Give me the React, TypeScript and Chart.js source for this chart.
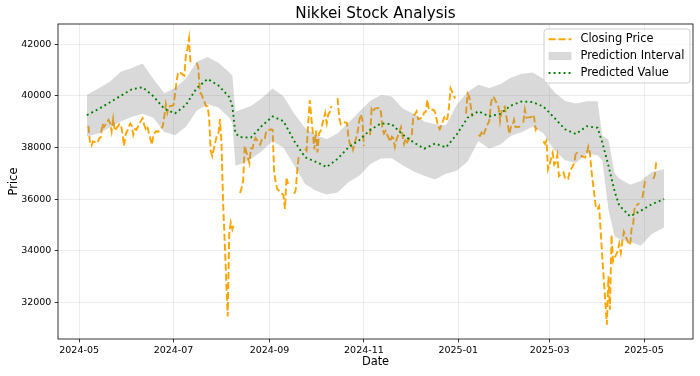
import React, { useEffect, useRef } from 'react';
import { Chart, registerables } from 'chart.js';

Chart.register(...registerables);
Chart.defaults.font.family = '"DejaVu Sans", sans-serif';

// ---------------- data ----------------
const closeMonths = ['2024-05', '2024-06', '2024-07', '2024-08', '2024-09', '2024-10', '2024-11', '2024-12', '2025-01', '2025-02', '2025-03', '2025-04', '2025-05'];
const closeDays = [
  [7, 8, 9, 10, 13, 14, 15, 16, 17, 20, 21, 22, 23, 24, 27, 28, 29, 30, 31],
  [3, 4, 5, 6, 7, 10, 11, 12, 13, 14, 17, 18, 19, 20, 21, 24, 25, 26, 27, 28],
  [1, 2, 3, 4, 5, 8, 9, 10, 11, 12, 15, 16, 17, 18, 19, 22, 23, 24, 25, 26, 29, 30, 31],
  [1, 2, 5, 6, 7, 8, 9, 12, 13, 14, 15, 16, 19, 20, 21, 22, 23, 26, 27, 28, 29, 30],
  [2, 3, 4, 5, 6, 9, 10, 11, 12, 13, 16, 17, 18, 19, 20, 23, 24, 25, 26, 27, 30],
  [1, 2, 3, 4, 7, 8, 9, 10, 11, 14, 15, 16, 17, 18, 21, 22, 23, 24, 25, 28, 29, 30, 31],
  [1, 4, 5, 6, 7, 8, 11, 12, 13, 14, 15, 18, 19, 20, 21, 22, 25, 26, 27, 28, 29],
  [2, 3, 4, 5, 6, 9, 10, 11, 12, 13, 16, 17, 18, 19, 20, 23, 24, 25, 26, 27, 30, 31],
  [1, 2, 3, 6, 7, 8, 9, 10, 13, 14, 15, 16, 17, 20, 21, 22, 23, 24, 27, 28, 29, 30, 31],
  [3, 4, 5, 6, 7, 10, 11, 12, 13, 14, 17, 18, 19, 20, 21, 24, 25, 26, 27, 28],
  [3, 4, 5, 6, 7, 10, 11, 12, 13, 14, 17, 18, 19, 20, 21, 24, 25, 26, 27, 28, 31],
  [1, 2, 3, 4, 7, 8, 9, 10, 11, 14, 15, 16, 17, 18, 21, 22, 23, 24, 25, 28, 29, 30],
  [1, 2, 5, 6, 7, 8, 9],
];
const closeValues: (number | null)[][] = [
  [38835, 38202, 38073, 38229, 38179, 38356, 38385, 38920, 38787, 39069, 38946, 38617, 39103, 38646, 38900, 38855, 38556, 38054, 38487],
  [38923, 38837, 38490, 38703, 38683, 39038, 39134, 38876, 38720, 38814, 38102, 38482, 38570, 38633, 38596, 38804, 39173, 39667, 39341, 39583],
  [39631, 40074, 40580, 40913, 40912, 40780, 41580, 41831, 42224, 41190, null, 41275, 41097, 40126, 40063, 39599, 39594, 39154, 37869, 37667, 38468, 38525, 39101],
  [38126, 35909, 31458, 34675, 35089, 34831, 35025, null, 36232, 36442, 36726, 38062, 37388, 37963, 37951, 38211, 38364, 38110, 38288, 38371, 38362, 38647],
  [38700, 38686, 37047, 36657, 36391, 36215, 36159, 35619, 36833, 36581, null, 36203, 36380, 37155, 37723, null, 37940, 37870, 38925, 39829, 37919],
  [38651, 37808, 38552, 38635, 39332, 38937, 39277, 39380, 39605, null, 39910, 39180, 38911, 38981, 38954, 38411, 38104, 38143, 37913, 38605, 39027, 39277, 39081],
  [38053, null, 38474, 39480, 39381, 39500, 39533, 39376, 38721, 38535, 38642, 38220, 38414, 38352, 38026, 38283, 38780, 38442, 38134, 38349, 38208],
  [38513, 39248, 39276, 39395, 39091, 39160, 39367, 39372, 39849, 39470, 39457, 39364, 39081, 38813, 38701, 39161, 39037, 39130, 39568, 40281, 39894, null],
  [null, null, null, 39307, 40083, 39981, 39605, 39190, null, 38474, 38444, 38572, 38451, 38902, 39027, 39646, 39958, 39931, 39565, 39016, 39414, 39513, 39572],
  [38520, 38798, 38831, 39066, 38787, 38801, null, 38963, 39461, 39149, 39174, 39270, 39164, 38678, 38776, null, 38237, 38142, 38256, 37155],
  [37785, 37331, 37418, 37704, 36887, 37028, 36793, 36819, 36790, 37053, 37396, 37845, 37751, null, 37677, 37608, 37780, 38027, 37799, 37120, 35617],
  [35624, 35725, 34735, 33780, 31136, 33012, 31714, 34609, 33586, 33982, 34267, 33920, 34377, 34730, 34280, 34221, 34869, 35039, 35705, 35840, null, 36045],
  [36452, 36831, null, null, 36780, 36929, 37503],
];

const predDates = [
  '2024-05-06', '2024-05-14', '2024-05-21', '2024-05-28',
  '2024-06-04', '2024-06-11', '2024-06-18', '2024-06-25',
  '2024-07-02', '2024-07-09', '2024-07-16', '2024-07-23', '2024-07-30',
  '2024-08-06', '2024-08-08', '2024-08-10', '2024-08-13', '2024-08-20', '2024-08-27',
  '2024-09-03', '2024-09-10', '2024-09-17', '2024-09-24',
  '2024-10-01', '2024-10-08', '2024-10-15', '2024-10-22', '2024-10-29',
  '2024-11-05', '2024-11-12', '2024-11-19', '2024-11-26',
  '2024-12-03', '2024-12-10', '2024-12-17', '2024-12-24', '2024-12-31',
  '2025-01-07', '2025-01-14', '2025-01-21', '2025-01-28',
  '2025-02-04', '2025-02-11', '2025-02-18', '2025-02-25',
  '2025-03-04', '2025-03-11', '2025-03-18', '2025-03-25',
  '2025-04-01', '2025-04-04', '2025-04-08', '2025-04-12', '2025-04-15', '2025-04-22', '2025-04-29',
  '2025-05-06', '2025-05-14',
];
const predValues = [
  39250, 39500, 39750, 40000,
  40250, 40330, 39980, 39500,
  39320, 39640, 40300, 40650, 40400,
  39950, 39600, 38550, 38400, 38380, 38830,
  39200, 39020, 38250, 37620,
  37440, 37240, 37560, 38000, 38280,
  38670, 38930, 38900, 38500,
  38200, 37950, 38150, 38000, 38500,
  39150, 39400, 39200, 39300,
  39620, 39780, 39760, 39580,
  39150, 38700, 38520, 38820,
  38760, 38200, 37300, 36300, 35750, 35330, 35550,
  35800, 36000,
];
const upperValues = [
  40030, 40300, 40550, 40930,
  41070, 41250, 40650, 40100,
  40300, 40670, 41320, 41500, 41280,
  40900, 40780, 39380, 39450, 39600, 39900,
  40280, 39980, 39300, 38750,
  38480, 38320, 38550, 38950, 39380,
  39800, 40030, 39970, 39510,
  39300, 39000, 38900, 38860, 39650,
  40150, 40430, 40300, 40450,
  40700, 40850, 40900, 40650,
  40150, 39800, 39700, 39790,
  39790, 38450, 38300, 37000, 36800, 36550, 36700,
  37050, 37150,
];
const lowerValues = [
  38420, 38550, 38780, 39000,
  39180, 39300, 39150, 38600,
  38470, 38800, 39420, 39680, 39550,
  39150, 38950, 37300, 37350, 37550, 37850,
  38250, 38000, 37300, 36580,
  36320, 36180, 36250, 36650, 36900,
  37350, 37570, 37580, 37310,
  37080, 36900, 36760, 36980, 37100,
  37450, 38250, 37960, 38100,
  38450, 38600, 38800, 38550,
  37900, 37500, 37400, 37750,
  37700, 37500, 35600, 34560, 34450, 34340, 34200,
  34650, 34900,
];

const xTickLabels = ['2024-05', '2024-07', '2024-09', '2024-11', '2025-01', '2025-03', '2025-05'];
const yTickValues = [32000, 34000, 36000, 38000, 40000, 42000];
const legendLabels = ['Closing Price', 'Prediction Interval', 'Predicted Value'];
const titleText = 'Nikkei Stock Analysis';

// ---------------- helpers ----------------
const ORIGIN = Date.parse('2024-05-01');
const toDay = (s: string) => (Date.parse(s) - ORIGIN) / 86400000;

const ORANGE = '#FFA500';
const GREEN = '#008000';
const BAND = 'rgba(128,128,128,0.3)';
const ORANGE_DASH = [7, 3];
const GREEN_DASH = [1.9, 3.1];
const FONT = '"DejaVu Sans", sans-serif';

const decorPlugin = {
  id: 'decor',
  afterDraw(chart: any) {
    const { ctx, chartArea: a } = chart;
    ctx.save();
    // spines
    ctx.strokeStyle = '#000';
    ctx.lineWidth = 0.8;
    ctx.setLineDash([]);
    ctx.strokeRect(a.left, a.top, a.right - a.left, a.bottom - a.top);
    // title
    ctx.fillStyle = '#000';
    ctx.font = `15.2px ${FONT}`;
    ctx.textAlign = 'center';
    ctx.textBaseline = 'alphabetic';
    ctx.fillText(titleText, (a.left + a.right) / 2, a.top - 5.7);
    // legend
    const bw = 146, bh = 54;
    const bx = a.right - 3 - bw, by = a.top + 5;
    ctx.beginPath();
    if ((ctx as any).roundRect) (ctx as any).roundRect(bx, by, bw, bh, 3);
    else ctx.rect(bx, by, bw, bh);
    ctx.fillStyle = 'rgba(255,255,255,0.8)';
    ctx.fill();
    ctx.strokeStyle = '#cccccc';
    ctx.lineWidth = 0.95;
    ctx.stroke();
    const x0 = bx + 4.6, x1 = bx + 27.4;
    legendLabels.forEach((lab, i) => {
      const cy = by + 10.2 + i * 16.9;
      if (i === 1) {
        ctx.fillStyle = BAND;
        ctx.fillRect(x0, cy - 4, x1 - x0, 8);
      } else {
        ctx.beginPath();
        ctx.setLineDash(i === 0 ? ORANGE_DASH : GREEN_DASH);
        ctx.strokeStyle = i === 0 ? ORANGE : GREEN;
        ctx.lineWidth = 1.9;
        ctx.lineCap = 'butt';
        ctx.moveTo(x0, cy);
        ctx.lineTo(x1, cy);
        ctx.stroke();
        ctx.setLineDash([]);
      }
      ctx.fillStyle = '#000';
      ctx.font = `11.4px ${FONT}`;
      ctx.textAlign = 'left';
      ctx.textBaseline = 'middle';
      ctx.fillText(lab, bx + 36.5, cy);
    });
    ctx.restore();
  },
};

export default function App() {
  const ref = useRef<HTMLCanvasElement>(null);

  useEffect(() => {
    const canvas = ref.current;
    if (!canvas) return;

    const closePts: { x: number; y: number | null }[] = [];
    closeMonths.forEach((m, mi) => {
      closeDays[mi].forEach((d, di) => {
        closePts.push({ x: toDay(`${m}-${String(d).padStart(2, '0')}`), y: closeValues[mi][di] });
      });
    });
    const predX = predDates.map(toDay);
    const predPts = predX.map((x, i) => ({ x, y: predValues[i] }));
    const upPts = predX.map((x, i) => ({ x, y: upperValues[i] }));
    const loPts = predX.map((x, i) => ({ x, y: lowerValues[i] }));

    const allX = [...closePts.map((p) => p.x), ...predX];
    const allY = [
      ...(closeValues.flat().filter((v) => v != null) as number[]),
      ...predValues,
      ...upperValues,
      ...lowerValues,
    ];
    const xMin = Math.min(...allX), xMax = Math.max(...allX);
    const yMin = Math.min(...allY), yMax = Math.max(...allY);
    const xm = (xMax - xMin) * 0.05, ym = (yMax - yMin) * 0.05;

    const gridCfg = {
      color: 'rgba(176,176,176,0.3)',
      lineWidth: 0.8,
      drawTicks: true,
      tickColor: '#000',
      tickLength: 3.3,
      tickWidth: 0.8,
    };

    const chart = new Chart(canvas, {
      type: 'line',
      data: {
        datasets: [
          {
            label: legendLabels[2],
            data: predPts,
            borderColor: GREEN,
            borderWidth: 1.9,
            borderDash: GREEN_DASH,
            borderCapStyle: 'butt',
            pointRadius: 0,
            fill: false,
            tension: 0,
          },
          {
            label: legendLabels[1],
            data: upPts,
            borderColor: 'rgba(0,0,0,0)',
            borderWidth: 0,
            backgroundColor: BAND,
            pointRadius: 0,
            fill: '+1',
            tension: 0,
          },
          {
            label: 'lower',
            data: loPts,
            borderColor: 'rgba(0,0,0,0)',
            borderWidth: 0,
            pointRadius: 0,
            fill: false,
            tension: 0,
          },
          {
            label: legendLabels[0],
            data: closePts,
            borderColor: ORANGE,
            borderWidth: 1.9,
            borderDash: ORANGE_DASH,
            borderCapStyle: 'butt',
            pointRadius: 0,
            fill: false,
            spanGaps: false,
            tension: 0,
          },
        ],
      } as any,
      options: {
        responsive: false,
        animation: false,
        devicePixelRatio: 1,
        events: [],
        layout: { padding: { top: 24, right: 7, left: 0, bottom: 0 } },
        plugins: {
          legend: { display: false },
          title: { display: false },
          tooltip: { enabled: false },
        },
        scales: {
          x: {
            type: 'linear',
            position: 'bottom',
            min: xMin - xm,
            max: xMax + xm,
            afterBuildTicks: (s: any) => {
              s.ticks = xTickLabels.map((l) => ({ value: toDay(l + '-01') }));
            },
            afterFit: (s: any) => {
              s.height = 37;
            },
            ticks: {
              callback: (_v: any, i: number) => xTickLabels[i],
              font: { size: 9.5, lineHeight: 1 },
              color: '#000',
              padding: 3,
              maxRotation: 0,
              autoSkip: false,
            },
            grid: gridCfg,
            border: { display: false },
            title: {
              display: true,
              text: 'Date',
              color: '#000',
              font: { size: 11.4, lineHeight: 1 },
              padding: { top: 0, bottom: 8.3 },
            },
          },
          y: {
            type: 'linear',
            position: 'left',
            min: yMin - ym,
            max: yMax + ym,
            afterBuildTicks: (s: any) => {
              s.ticks = yTickValues.map((v) => ({ value: v }));
            },
            afterFit: (s: any) => {
              s.width = 58;
            },
            ticks: {
              callback: (v: any) => String(v),
              font: { size: 9.5, lineHeight: 1 },
              color: '#000',
              padding: 3.3,
              autoSkip: false,
            },
            grid: gridCfg,
            border: { display: false },
            title: {
              display: true,
              text: 'Price',
              color: '#000',
              font: { size: 11.4, lineHeight: 1 },
              padding: { top: 8.3, bottom: 0 },
            },
          },
        },
      } as any,
      plugins: [decorPlugin],
    });

    return () => chart.destroy();
  }, []);

  return (
    <div style={{ position: 'absolute', left: 0, top: 0, width: 700, height: 376, background: '#fff' }}>
      <canvas ref={ref} width={700} height={376} style={{ width: 700, height: 376, display: 'block' }} />
    </div>
  );
}
